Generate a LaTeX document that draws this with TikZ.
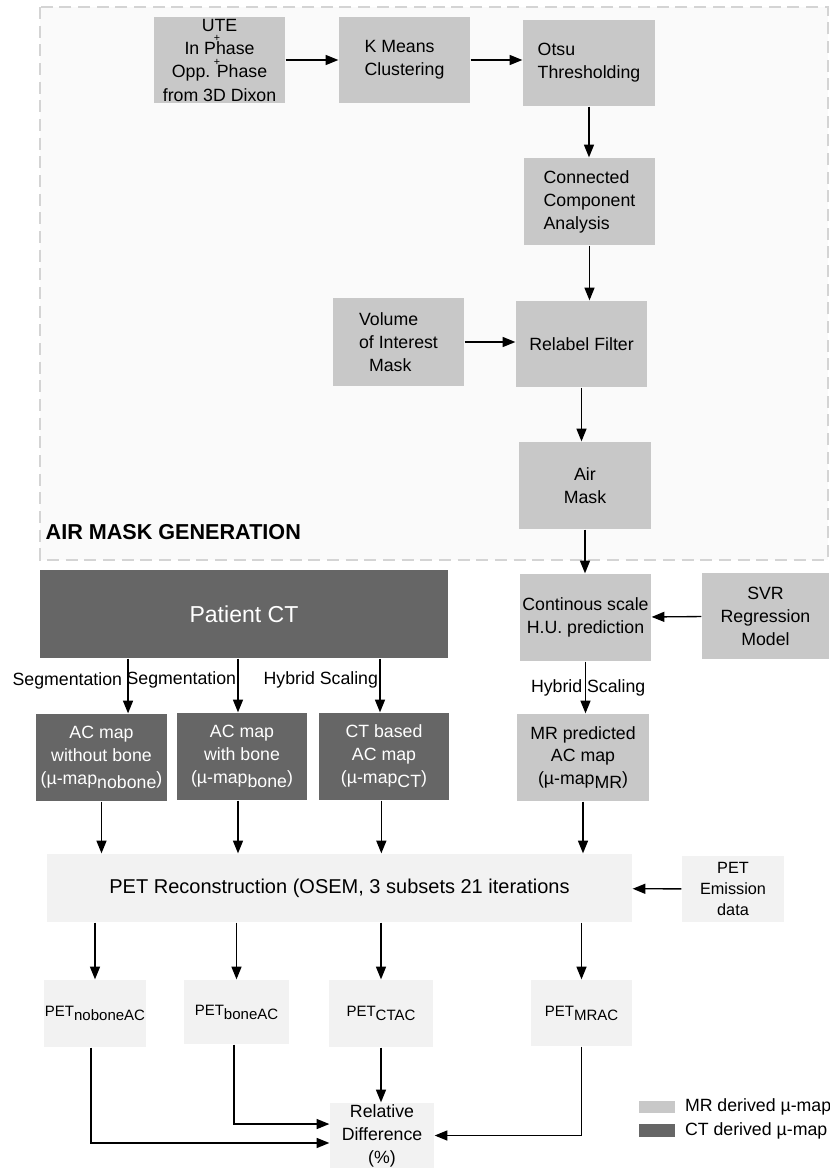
\documentclass[tikz,border=0pt]{standalone}
\usepackage{fontspec}
\setmainfont{Liberation Sans}
\usetikzlibrary{arrows.meta}

\definecolor{mrgray}{HTML}{C8C8C8}
\definecolor{ctgray}{HTML}{666666}
\definecolor{petgray}{HTML}{F2F2F2}
\definecolor{framegray}{HTML}{D4D4D4}
\definecolor{framefill}{HTML}{FAFAFA}

\newcommand{\lowtxt}[1]{\raisebox{-3pt}{#1}}

\tikzset{every picture/.style={line width=1pt},
  box/.style={inner sep=0pt, align=center, minimum width=98.25pt, minimum height=65.25pt, font=\fontsize{13.3}{17.2}\selectfont},
  mrbox/.style={box, fill=mrgray},
  ctbox/.style={box, fill=ctgray, text=white},
  petbox/.style={box, fill=petgray},
  arr/.style={-{Triangle[length=9.5pt,width=7.5pt]}},
  lbl/.style={inner sep=1pt, font=\fontsize{13.3}{16}\selectfont},
  plus/.style={inner sep=0pt, font=\fontsize{8}{8}\selectfont}}

\begin{document}
\begin{tikzpicture}[x=0.75pt,y=0.75pt,yscale=-1,xscale=1]
\useasboundingbox (0,0) rectangle (829,1168);

%Air mask generation frame
\draw[framegray, fill=framefill, line width=1.9pt, dash pattern=on 9pt off 5pt] (40,7) rectangle (828,560);
\node[anchor=west, inner sep=0pt, font=\fontsize{16.2}{18}\selectfont\bfseries] (amgtitle) at (45,532) {AIR MASK GENERATION};

%MR boxes
\node[mrbox, minimum height=64.5pt, font=\fontsize{13.3}{17.5}\selectfont] (ute) at (219.5,60) {UTE\\In Phase\\Opp. Phase\\from 3D Dixon};
\node[plus] (plusa) at (217,38) {+};
\node[plus] (plusb) at (217,62) {+};
\node[mrbox, align=left, minimum height=64.5pt] (kmeans) at (404.5,60) {K Means\\Clustering};
\node[mrbox, align=left, minimum width=99pt, minimum height=64.5pt] (otsu) at (589,63) {Otsu\\Thresholding};
\node[mrbox, align=left] (cca) at (589.5,201.5) {Connected\\Component\\Analysis};
\node[mrbox, align=left, minimum height=66pt] (voi) at (398.5,342) {Volume\\of Interest\\\hspace*{7.5pt}Mask};
\node[mrbox, minimum height=64.5pt] (relabel) at (581.5,344) {Relabel Filter};
\node[mrbox, minimum width=99pt] (airmask) at (585,485.5) {Air\\Mask};
\node[mrbox] (hupred) at (585.5,617.5) {Continous scale\\H.U. prediction};
\node[mrbox, minimum width=95.25pt, minimum height=64.5pt] (svr) at (765.5,616) {SVR\\Regression\\Model};
\node[mrbox, minimum width=99pt] (acmr) at (583,757.5) {MR predicted\\AC map\\(µ-map\lowtxt{MR})};

%CT boxes
\node[ctbox, minimum width=306pt, minimum height=66pt, font=\fontsize{17.3}{20}\selectfont] (patct) at (244,614) {Patient CT};
\node[ctbox] (acnobone) at (101.5,757.5) {AC map\\without bone\\(µ-map\lowtxt{nobone})};
\node[ctbox, minimum width=97.5pt] (acbone) at (242,756.5) {AC map\\with bone\\(µ-map\lowtxt{bone})};
\node[ctbox, minimum width=97.5pt] (acct) at (384,756.5) {CT based\\AC map\\(µ-map\lowtxt{CT})};

%PET boxes
\node[petbox, minimum width=438.75pt, minimum height=51pt, font=\fontsize{15}{18}\selectfont] (petrec) at (339.5,888) {PET Reconstruction (OSEM, 3 subsets 21 iterations};
\node[petbox, minimum width=76.5pt, minimum height=49.5pt, font=\fontsize{12.2}{15.7}\selectfont] (emission) at (733,889) {PET\\Emission\\data};
\node[petbox, minimum width=76.5pt, minimum height=50.25pt, font=\fontsize{11.25}{14}\selectfont] (petnobone) at (95,1013.5) {PET\lowtxt{noboneAC}};
\node[petbox, minimum width=78.75pt, minimum height=48pt, font=\fontsize{11.25}{14}\selectfont] (petbone) at (236.5,1012) {PET\lowtxt{boneAC}};
\node[petbox, minimum width=78pt, minimum height=50.25pt, font=\fontsize{11.25}{14}\selectfont] (petctac) at (381,1013.5) {PET\lowtxt{CTAC}};
\node[petbox, minimum width=75.75pt, minimum height=49.5pt, font=\fontsize{11.25}{14}\selectfont] (petmrac) at (581.5,1013) {PET\lowtxt{MRAC}};
\node[petbox, minimum width=78pt, minimum height=48.75pt] (reldiff) at (382,1135.5) {Relative\\Difference\\(\%)};

%Legend
\node[mrbox, minimum width=27pt, minimum height=9pt] (legmr) at (657,1107) {};
\node[ctbox, minimum width=27pt, minimum height=9.75pt] (legct) at (657,1130.5) {};
\node[lbl, anchor=west] (legmrtxt) at (683,1107) {MR derived µ-map};
\node[lbl, anchor=west] (legcttxt) at (683,1131) {CT derived µ-map};

%Arrows, air mask generation
\draw[arr] (ute) -- (kmeans);
\draw[arr] (kmeans.east) -- (kmeans.east -| otsu.west);
\draw[arr] (otsu.south) -- (otsu.south |- cca.north);
\draw[arr] (cca.south) -- (cca.south |- relabel.north);
\draw[arr] (voi.east) -- (voi.east -| relabel.west);
\draw[arr] (relabel.south) -- (relabel.south |- airmask.north);
\draw[arr] (airmask.south) -- (airmask.south |- hupred.north);
\draw[arr] (svr) -- (hupred);
\draw[arr] (hupred.south) -- (hupred.south |- acmr.north) node[midway, lbl, xshift=2pt] {Hybrid Scaling};

%Arrows, CT
\draw[arr] ([xshift=19.9pt]acnobone.north |- patct.south) -- ([xshift=19.9pt]acnobone.north) node[pos=0.4, left=3pt, lbl] {Segmentation};
\draw[arr] ([xshift=-3pt]acbone.north |- patct.south) -- ([xshift=-3pt]acbone.north) node[pos=0.4, left, lbl] {Segmentation};
\draw[arr] ([xshift=-3pt]acct.north |- patct.south) -- ([xshift=-3pt]acct.north) node[pos=0.4, left, lbl] {Hybrid Scaling};

%Arrows, PET
\draw[arr] (acnobone.south) -- (acnobone.south |- petrec.north);
\draw[arr] ([xshift=-3pt]acbone.south) -- ([xshift=-3pt]acbone.south |- petrec.north);
\draw[arr] ([xshift=-2pt]acct.south) -- ([xshift=-2pt]acct.south |- petrec.north);
\draw[arr] (acmr.south) -- (acmr.south |- petrec.north);
\draw[arr] (emission) -- (petrec);
\draw[arr] (petnobone.north |- petrec.south) -- (petnobone.north);
\draw[arr] (petbone.north |- petrec.south) -- (petbone.north);
\draw[arr] (petctac.north |- petrec.south) -- (petctac.north);
\draw[arr] (petmrac.north |- petrec.south) -- (petmrac.north);
\draw[arr] ([xshift=-3pt]petnobone.south) |- ([yshift=5.6pt]reldiff.west);
\draw[arr] ([xshift=-2pt]petbone.south) |- ([yshift=-8.6pt]reldiff.west);
\draw[arr] (petctac.south) -- (petctac.south |- reldiff.north);
\draw[arr] (petmrac.south) |- (reldiff.east);

\end{tikzpicture}
\end{document}
